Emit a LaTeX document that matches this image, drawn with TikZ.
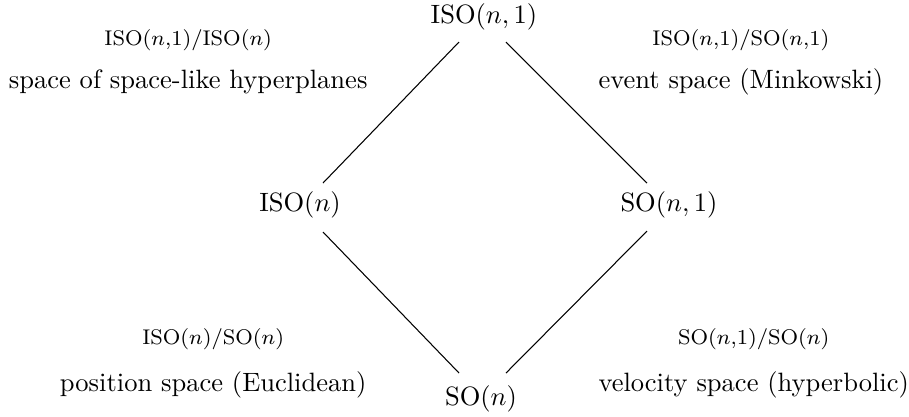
\documentclass[tikz,border=0pt]{standalone}
\usetikzlibrary{calc}
\begin{document}
\begin{tikzpicture}[x=0.377pt,y=-0.377pt,
  group/.style={inner sep=0pt,anchor=base},
  space/.style={inner sep=0pt},
  quot/.style={inner sep=0pt,anchor=base,font=\footnotesize},
  link/.style={line width=0.4pt}]
\useasboundingbox (0,0) rectangle (909,416);

% the four groups
\node[group] (iso1) at (484,23)  {$\mathrm{ISO}(n,1)$};
\node[group] (iso)  at (300,211) {$\mathrm{ISO}(n)$};
\node[group] (so1)  at (669,211) {$\mathrm{SO}(n,1)$};
\node[group] (so)   at (481,405) {$\mathrm{SO}(n)$};

% inclusions
\draw[link] ($(iso1.base)+(-25,19)$) -- ($(iso.base)+(23,-28)$);
\draw[link] ($(iso1.base)+(22,19)$)  -- ($(so1.base)+(-22,-28)$);
\draw[link] ($(iso.base)+(23,21)$)   -- ($(so.base)+(-22,-32)$);
\draw[link] ($(so1.base)+(-22,20)$)  -- ($(so.base)+(25,-32)$);

% homogeneous spaces
\node[space,anchor=base east] (hyp) at (368,88)  {space of space-like hyperplanes};
\node[space,anchor=base west] (ev)  at (598,88)  {event space (Minkowski)};
\node[space,anchor=base east] (pos) at (367,391) {position space (Euclidean)};
\node[space,anchor=base west] (vel) at (598,391) {velocity space (hyperbolic)};

\node[quot] (hypq) at (hyp.base |- 0,45)  {ISO($n$,1)/ISO($n$)};
\node[quot] (evq)  at (ev.base |- 0,45)   {ISO($n$,1)/SO($n$,1)};
\node[quot] (posq) at (pos.base |- 0,344) {ISO($n$)/SO($n$)};
\node[quot] (velq) at (vel.base |- 0,344) {SO($n$,1)/SO($n$)};
\end{tikzpicture}
\end{document}
